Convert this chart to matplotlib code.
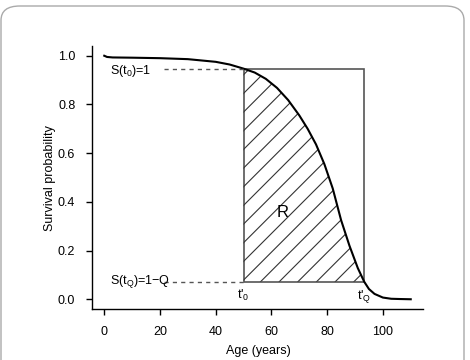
import numpy as np
import matplotlib.pyplot as plt
from matplotlib.patches import Rectangle, FancyBboxPatch

plt.rcParams['font.family'] = ['Liberation Sans', 'DejaVu Sans']
plt.rcParams['mathtext.fontset'] = 'custom'
plt.rcParams['mathtext.rm'] = 'Liberation Sans'
plt.rcParams['mathtext.it'] = 'Liberation Sans'

# survival curve
age = np.array([0, 1, 3, 10, 20, 30, 40, 45, 50, 54, 58, 62, 66, 70, 73, 76, 79,
                82, 85, 88, 91, 93.3, 95, 97, 100, 103, 106, 110])
surv = np.array([1.0, 0.995, 0.993, 0.992, 0.990, 0.986, 0.975, 0.964, 0.947, 0.931,
                 0.905, 0.868, 0.818, 0.755, 0.700, 0.636, 0.555, 0.455, 0.325,
                 0.220, 0.128, 0.072, 0.042, 0.022, 0.007, 0.002, 0.001, 0.0])

t0, tq = 50, 93.3          # t'0 and t'Q
s0, sq = 0.947, 0.072      # S(t0) and S(tQ)
xticks = [0, 20, 40, 60, 80, 100]
yticks = [0.0, 0.2, 0.4, 0.6, 0.8, 1.0]

fig = plt.figure(figsize=(4.7, 3.6), dpi=100)
ax = fig.add_axes([92/470, 1-309/360, 331/470, 263/360])
ax.set_xlim(-4.4, 114.4)
ax.set_ylim(-0.04, 1.04)

# area R, hatched with 45 degree lines clipped to it
m = (age >= t0) & (age <= tq)
area = ax.fill_between(age[m], sq, surv[m], facecolor='none', linewidth=0)
slope = (331 / 118.8) / (263 / 1.08)   # 45 degrees on screen
for c in np.arange(-24.3, tq + 5, 6.7):
    ln, = ax.plot([c, c + 100], [sq, sq + slope * 100], color='#333333', linewidth=0.8)
    ln.set_clip_path(area.get_paths()[0], ax.transData)

ax.add_patch(Rectangle((t0, sq), tq - t0, s0 - sq, fill=False,
                       edgecolor='#555555', linewidth=1.2))
ax.plot(age, surv, color='black', linewidth=1.5)

# dashed guides and labels
ax.plot([21.5, t0], [s0, s0], color='#555555', linestyle=(0, (3, 3)), linewidth=1)
ax.plot([21.5, t0], [sq, sq], color='#555555', linestyle=(0, (3, 3)), linewidth=1)
ax.text(2.2, s0 - 0.01, r'S(t$_\mathrm{0}$)=1', fontsize=9, va='center', ha='left')
ax.text(2.2, sq, r'S(t$_\mathrm{Q}$)=1$-$Q', fontsize=9, va='center', ha='left')
ax.text(t0, 0.045, r"t$'_\mathrm{0}$", fontsize=9, va='top', ha='center')
ax.text(tq, 0.045, r"t$'_\mathrm{Q}$", fontsize=9, va='top', ha='center')
ax.text(64, 0.358, 'R', fontsize=12, va='center', ha='center')

ax.set_xticks(xticks)
ax.set_yticks(yticks)
ax.set_yticklabels([f'{v:.1f}' for v in yticks])
ax.tick_params(direction='out', length=4, width=1, labelsize=9, pad=8)
for s in ['top', 'right']:
    ax.spines[s].set_visible(False)
for s in ['left', 'bottom']:
    ax.spines[s].set_linewidth(1)

fig.text(50/470, 1-178/360, 'Survival probability', rotation=90, fontsize=9,
         ha='center', va='center')
fig.text(258/470, 1-351/360, 'Age (years)', fontsize=9, ha='center', va='center')

# rounded frame round the figure
fig.patches.append(FancyBboxPatch((1/470, -0.1), 463/470, 1.1 - 6/360,
                                  boxstyle='round,pad=0,rounding_size=0.04',
                                  transform=fig.transFigure, fill=False,
                                  edgecolor='#aaaaaa', linewidth=1))

fig.savefig('out.png', dpi=100)
